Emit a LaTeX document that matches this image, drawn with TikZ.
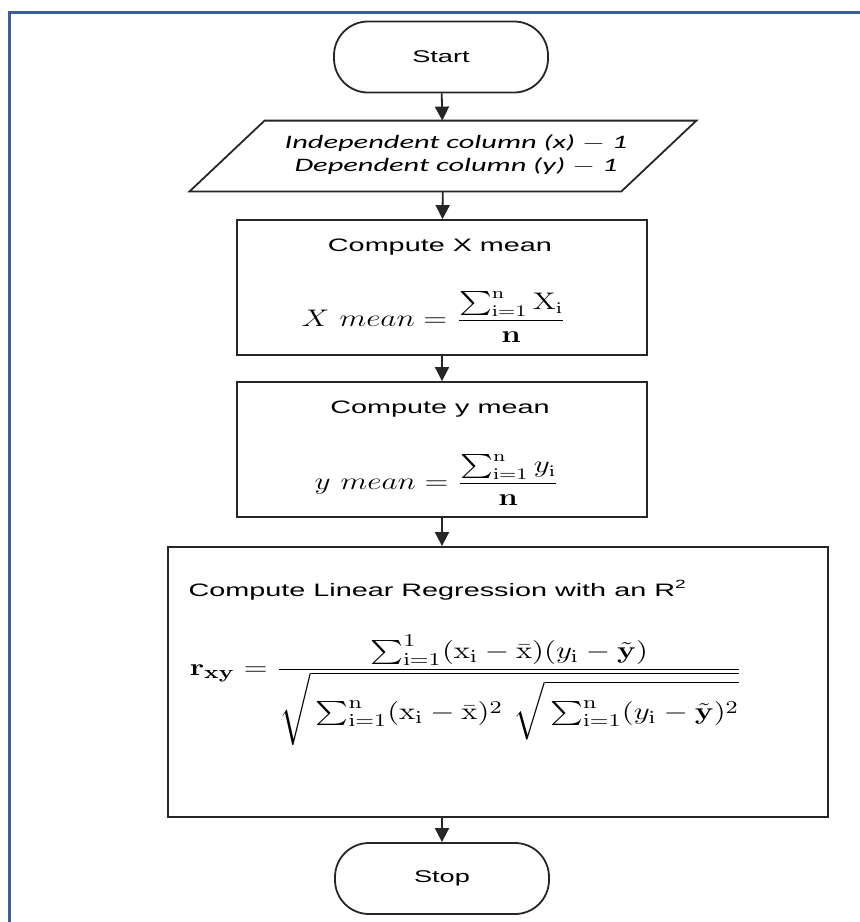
\documentclass[tikz,border=0pt]{standalone}
\usepackage{amsmath}
\usepackage[no-math]{fontspec}
\newfontfamily\arialfont{Liberation Sans}
\newfontfamily\calibrifont{Carlito}
\usetikzlibrary{arrows.meta}
\definecolor{frameblue}{RGB}{59,92,160}
\newcommand{\wide}[1]{\scalebox{1.6}[1]{#1}}
\newcommand{\widem}[1]{\scalebox{1.3}[1]{#1}}
\tikzset{
  >={Triangle[width=7pt,length=7pt]},
  line/.style={draw=black!85, line width=0.9pt},
  term/.style={line, rectangle, rounded corners=17pt, minimum width=107pt, minimum height=35.5pt,
    inner sep=0pt, font=\arialfont\fontsize{8.5}{10}\selectfont},
  procbox/.style={line, rectangle, inner sep=0pt, minimum width=205pt, minimum height=67.5pt},
  title/.style={font=\arialfont\fontsize{9}{11}\selectfont, inner sep=0pt},
  formula/.style={font=\fontsize{12}{14}\selectfont, inner sep=0pt},
}

\begin{document}
\begin{tikzpicture}[x=0.5pt, y=-0.5pt]
  \useasboundingbox (0,0) rectangle (860,922);
  \draw[frameblue, line width=1.5pt] (9,930) -- (9,12) -- (870,12);

  \node[term] (start) at (441,57) {\wide{Start}};

  % input / output
  \node[inner sep=0pt, minimum width=215.5pt, minimum height=35pt] (io) at (443,156) {};
  \draw[line] ([xshift=-18.75pt]io.south west) -- ([xshift=18.75pt]io.north west)
    -- ([xshift=18.75pt]io.north east) -- ([xshift=-18.75pt]io.south east) -- cycle;
  \node[inner sep=0pt] (iotext) at (456,155)
    {\wide{\calibrifont\itshape\fontsize{9.5}{11.5}\selectfont
      \begin{tabular}{@{}c@{}}Independent column (x) $-$ 1\\ Dependent column (y) $-$ 1\end{tabular}}};

  \node[procbox] (box1) at (442,287.5) {};
  \node[title] (t1) at (440,247) {\wide{Compute X mean}};
  \node[formula] (f1) at (434,317)
    {\widem{$X\ mean = \dfrac{\sum\nolimits_{\mathrm{i=1}}^{\mathrm{n}}\mathrm{X}_{\mathrm{i}}}{\mathbf{n}}$}};

  \node[procbox] (box2) at (442,449.5) {};
  \node[title] (t2) at (440,409) {\wide{Compute y mean}};
  \node[formula] (f2) at (437,480)
    {\widem{$y\ mean = \dfrac{\sum\nolimits_{\mathrm{i=1}}^{\mathrm{n}}y_{\mathrm{i}}}{\mathbf{n}}$}};

  \node[procbox, minimum width=330pt, minimum height=135pt] (box3) at (498,682) {};
  \node[title] (t3) at (438,590) {\wide{Compute Linear Regression with an R\textsuperscript{2}}};
  \node[formula, font=\fontsize{13}{15}\selectfont, anchor=base] (f3) at (466,675)
    {\widem{$\mathbf{r}_{\mathbf{xy}} = \dfrac{\sum\nolimits_{\mathrm{i=1}}^{1}(\mathrm{x}_{\mathrm{i}} - \bar{\mathrm{x}})(y_{\mathrm{i}} - \tilde{\mathbf{y}})}
      {\sqrt{\rule[-9pt]{0pt}{28pt}\sum\nolimits_{\mathrm{i=1}}^{\mathrm{n}}(\mathrm{x}_{\mathrm{i}} - \bar{\mathrm{x}})^2\ 
        \sqrt{\rule[-7pt]{0pt}{22pt}\sum\nolimits_{\mathrm{i=1}}^{\mathrm{n}}(y_{\mathrm{i}} - \tilde{\mathbf{y}})^2}}}$}};

  \node[term] (stop) at (442,878.5) {\wide{Stop}};

  \draw[line,->] (start) -- (io);
  \draw[line,->] (io) -- (box1);
  \draw[line,->] (box1) -- (box2);
  \draw[line,->] (box2.south) -- (box2.south |- box3.north);
  \draw[line,->] (stop.north |- box3.south) -- (stop);
\end{tikzpicture}
\end{document}
